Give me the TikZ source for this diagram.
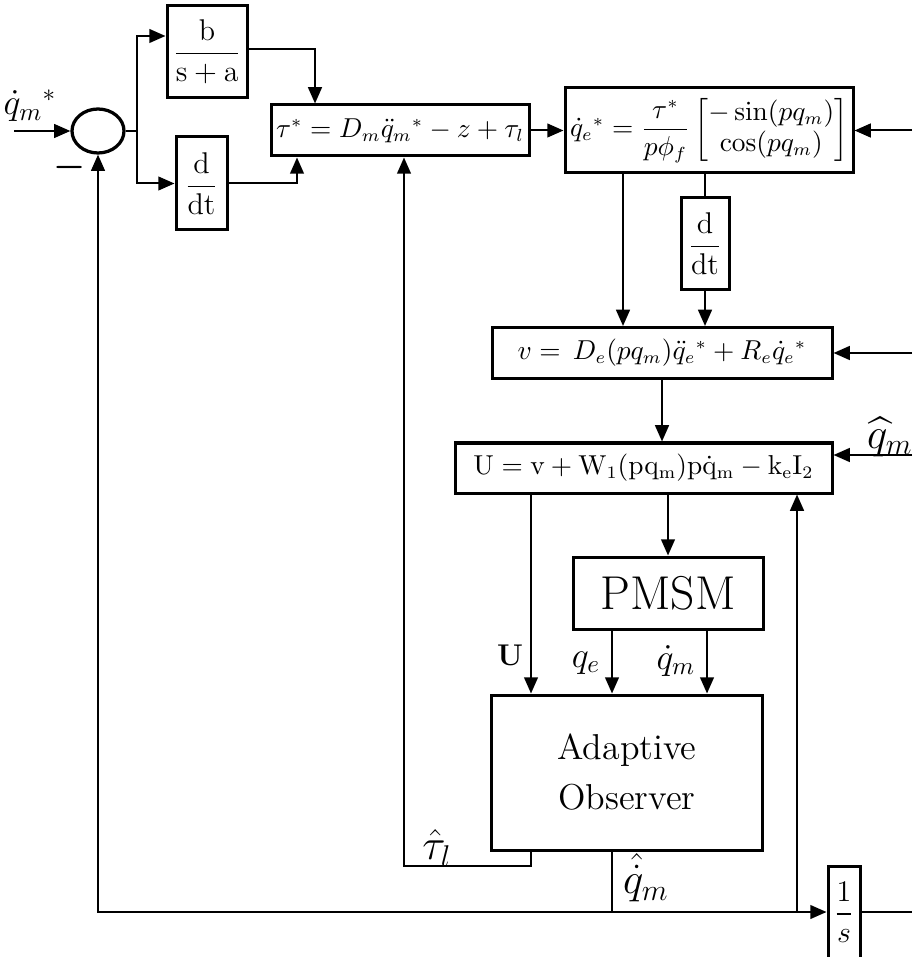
\documentclass[tikz,border=0pt]{standalone}
\usepackage{amsmath}
\usepackage{amssymb}
\usepackage{tikz}
\usetikzlibrary{shapes.geometric, arrows.meta, positioning, calc}

\begin{document}
\begin{tikzpicture}[
	x=0.4pt, y=-0.4pt,
	box/.style={rectangle, draw, line width=1.2pt, align=center, inner sep=1pt, font=\fontsize{10.5}{12.6}\selectfont},
	summer/.style={ellipse, draw, line width=1.3pt, minimum width=20.8pt, minimum height=17.6pt, inner sep=0pt},
	lbl/.style={inner sep=1pt, font=\Large},
	line/.style={line width=0.8pt},
	arr/.style={-{Triangle[length=6.5pt,width=5.5pt]}, line width=0.8pt}
	]
	\useasboundingbox (0,0) rectangle (912,957);
	\clip (0,0) rectangle (912,957);

	% blocks
	\node[summer] (sum) at (98,131) {};
	\node[box, minimum width=32pt, minimum height=36.8pt, font=\large] (bsa) at (207,52) {$\dfrac{\mathrm{b}}{\mathrm{s+a}}$};
	\node[box, minimum width=20.4pt, minimum height=37.2pt, font=\large] (ddtA) at (201.5,183.5) {$\dfrac{\mathrm{d}}{\mathrm{dt}}$};
	\node[box, minimum width=103.2pt, minimum height=20.4pt] (tau) at (400,130.5) {$\tau^{*} = D_m\ddot{q}_m{}^{*} - z + \tau_l$};
	\node[box, minimum width=115.2pt, minimum height=34pt] (qe) at (709,130.5) {$\dot{q}_e{}^{*} = \dfrac{\tau^{*}}{p\phi_f}\begin{bmatrix}-\sin(pq_m)\\ \cos(pq_m)\end{bmatrix}$};
	\node[box, minimum width=19.2pt, minimum height=36.8pt, font=\large] (ddtB) at (705,244) {$\dfrac{\mathrm{d}}{\mathrm{dt}}$};
	\node[box, minimum width=136pt, minimum height=20.4pt] (vcmd) at (662,353) {$v = \, D_e(pq_m)\ddot{q}_e{}^{*} + R_e\dot{q}_e{}^{*}$};
	\node[box, minimum width=150.8pt, minimum height=20pt] (ucmd) at (643.5,468) {$\mathrm{U = v + W_1(pq_m)p\dot{q}_m - k_e I_2}$};
	\node[box, minimum width=76pt, minimum height=28.8pt, font=\fontsize{19}{22}\selectfont] (pmsm) at (668,593) {PMSM};
	\node[box, minimum width=108.4pt, minimum height=62pt, font=\Large] (obs) at (627,772.5) {Adaptive\\[2pt] Observer};
	\node[box, minimum width=12.8pt, minimum height=36.8pt, font=\large] (integ) at (844,912) {$\dfrac{1}{s}$};

	% signal points
	\coordinate (qref) at (14,131);
	\coordinate (br) at (137,131);
	\coordinate (xq) at (623,0);
	\coordinate (xu) at (531,0);
	\coordinate (xe) at (612,0);
	\coordinate (xm) at (707,0);
	\coordinate (tl) at (404,866);
	\coordinate (jb) at (612,912);
	\coordinate (jr) at (797,912);
	\coordinate (qin) at (912,130.5);
	\coordinate (vin) at (912,353);
	\coordinate (uin) at (912,455);
	\coordinate (iout) at (912,912);

	% connectors
	\draw[arr] (qref) -- (sum.west);
	\draw[line] (sum.east) -- (br);
	\draw[arr] (br) |- ($(bsa.west)+(0,-16)$);
	\draw[arr] (br) |- (ddtA.west);
	\draw[arr] ($(bsa.east)+(0,-3)$) -| ($(tau.north)+(-85,0)$);
	\draw[arr] (ddtA.east) -| ($(tau.south)+(-103,0)$);
	\draw[arr] (tau.east) -- (qe.west);
	\draw[arr] (qin) -- (qe.east);
	\draw[arr] (qe.south -| xq) -- (vcmd.north -| xq);
	\draw[line] (qe.south -| ddtB.north) -- (ddtB.north);
	\draw[arr] (ddtB.south) -- (vcmd.north -| ddtB.south);
	\draw[arr] (vin) -- (vcmd.east);
	\draw[arr] (vcmd.south) -- (ucmd.north -| vcmd.south);
	\draw[arr] (uin) -- (ucmd.east |- uin);
	\draw[arr] (ucmd.south -| pmsm.north) -- (pmsm.north);
	\draw[arr] (ucmd.south -| xu) -- (obs.north -| xu);
	\draw[arr] (pmsm.south -| xe) -- (obs.north -| xe);
	\draw[arr] (pmsm.south -| xm) -- (obs.north -| xm);
	\draw[arr] (obs.south -| xu) |- (tl) -- (tau.south -| tl);
	\draw[line] (obs.south -| jb) -- (jb);
	\draw[arr] (jb) -| (sum.south);
	\draw[arr] (jb) -- (integ.west);
	\draw[arr] (jr) -- (ucmd.south -| jr);
	\draw[line] (integ.east) -- (iout);

	% labels
	\node[lbl] at (30,106) {$\dot{q}_m{}^{*}$};
	\node[lbl] at (70,168) {$\boldsymbol{-}$};
	\node[lbl, font=\large] at (510,655) {$\mathbf{U}$};
	\node[lbl] at (586,663) {$q_e$};
	\node[lbl] at (676,661) {$\dot{q}_m$};
	\node[lbl, font=\LARGE] at (437,848) {$\hat{\tau}_l$};
	\node[lbl, font=\LARGE] at (646,878) {$\hat{\dot{q}}_m$};
	\node[lbl, font=\LARGE, anchor=west] at (864,437) {$\widehat{q}_m$};
\end{tikzpicture}
\end{document}
